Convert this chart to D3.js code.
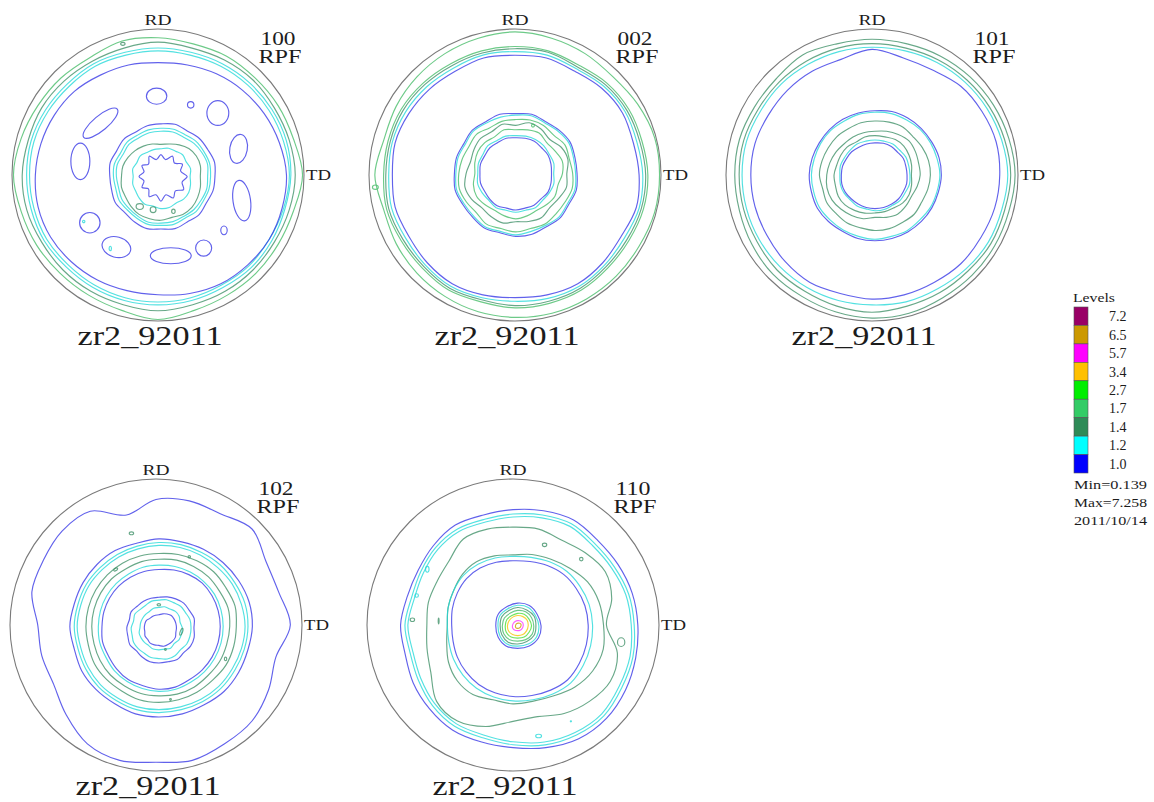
<!DOCTYPE html>
<html><head><meta charset="utf-8">
<script src="https://cdn.jsdelivr.net/npm/d3@7"></script>
<style>
body{margin:0;background:#fff;}
text{font-family:"Liberation Serif","Times New Roman",serif;fill:#1c1c1c;}
</style>
</head><body>
<svg id="chart" width="1154" height="802"></svg>
<script>
// ---------- DATA ----------
const figureNames = ["100","002","101","102","110"];
const sampleName = "zr2_92011";
const legendLevels = [7.2,6.5,5.7,3.4,2.7,1.7,1.4,1.2,1.0];
const legendLabels = ["7.2","6.5","5.7","3.4","2.7","1.7","1.4","1.2","1.0"];
const legendSwatch = ["#990066","#cc9900","#ff00ff","#ffc000","#00ee00","#33cc66","#2e8b57","#00ffff","#0000ff"];
const lineColors   = ["#99005a","#cc9900","#ff33ff","#f5c400","#44dd33","#44bb66","#3d8f66","#22d8d8","#3535e6"];
const statLines = ["Min=0.139","Max=7.258","2011/10/14"];

// contour rings: level, centre offset (fraction of radius), radii sampled clockwise from RD
const rings100 = [
 {lv:1.7,c:[0,0],r:[0.94,0.93,0.94,0.94,0.95,0.96,0.99,0.96,0.95,0.95,0.95,0.96,0.99,0.96,0.95,0.95,0.96,0.97,0.99,0.97,0.95,0.94,0.93,0.95]},
 {lv:1.4,c:[0,0],r:[0.91,0.9,0.91,0.92,0.92,0.93,0.94,0.93,0.92,0.92,0.92,0.92,0.93,0.92,0.92,0.92,0.92,0.93,0.93,0.92,0.92,0.91,0.9,0.9]},
 {lv:1.2,c:[0,0],r:[0.87,0.87,0.88,0.89,0.9,0.91,0.91,0.9,0.9,0.9,0.89,0.89,0.89,0.89,0.89,0.89,0.9,0.9,0.9,0.9,0.89,0.88,0.88,0.87]},
 {lv:1.2,c:[0,0],r:[0.85,0.85,0.86,0.87,0.88,0.89,0.9,0.89,0.88,0.88,0.87,0.87,0.87,0.87,0.87,0.87,0.88,0.88,0.88,0.88,0.87,0.86,0.86,0.85]},
 {lv:1.0,c:[0,0],r:[0.77,0.78,0.8,0.82,0.84,0.86,0.88,0.88,0.88,0.87,0.86,0.84,0.82,0.82,0.83,0.84,0.85,0.85,0.84,0.83,0.82,0.81,0.79,0.78]},
 {lv:1.0,c:[0.02,0.01],r:[0.36,0.37,0.36,0.37,0.37,0.38,0.37,0.37,0.36,0.37,0.36,0.37,0.36,0.37,0.36,0.35,0.36,0.35,0.35,0.36,0.35,0.36,0.35,0.36]},
 {lv:1.2,c:[0.02,0.01],r:[0.33,0.335,0.33,0.34,0.34,0.345,0.34,0.34,0.335,0.34,0.33,0.34,0.335,0.34,0.33,0.325,0.33,0.32,0.325,0.33,0.32,0.33,0.325,0.33]},
 {lv:1.2,c:[0.02,0.01],r:[0.31,0.315,0.31,0.32,0.325,0.33,0.32,0.325,0.32,0.32,0.315,0.32,0.32,0.325,0.315,0.31,0.31,0.3,0.305,0.31,0.3,0.31,0.305,0.31]},
 {lv:1.4,c:[0.02,0.01],r:[0.22,0.23,0.25,0.27,0.28,0.28,0.27,0.28,0.29,0.3,0.3,0.29,0.3,0.3,0.3,0.29,0.28,0.28,0.27,0.27,0.26,0.25,0.24,0.23]},
 {lv:1.2,c:[0.02,0.01],r:[0.19,0.2,0.2,0.21,0.2,0.21,0.2,0.21,0.22,0.22,0.21,0.22,0.22,0.21,0.22,0.21,0.2,0.2,0.19,0.2,0.19,0.2,0.19,0.19]},
 {lv:1.0,c:[0.02,0.01],r:[0.15,0.12,0.16,0.13,0.17,0.14,0.18,0.15,0.18,0.14,0.17,0.13,0.17,0.13,0.16,0.12,0.15,0.12,0.15,0.12,0.15,0.12,0.16,0.12]}
];
const rings002 = [
 {lv:1.7,c:[0,0],r:[0.98,0.97,0.96,0.95,0.97,0.99,0.99,0.99,0.98,0.98,0.98,0.98,0.975,0.97,0.96,0.95,0.94,0.93,0.96,0.93,0.94,0.95,0.96,0.97]},
 {lv:1.7,c:[0,0],r:[0.88,0.88,0.87,0.89,0.9,0.9,0.91,0.91,0.9,0.9,0.91,0.91,0.91,0.9,0.91,0.9,0.9,0.91,0.9,0.9,0.9,0.89,0.88,0.88]},
 {lv:1.4,c:[0,0],r:[0.865,0.87,0.855,0.875,0.885,0.885,0.895,0.895,0.885,0.885,0.895,0.895,0.895,0.885,0.895,0.885,0.885,0.895,0.885,0.885,0.885,0.875,0.865,0.865]},
 {lv:1.2,c:[0,0],r:[0.845,0.85,0.84,0.86,0.87,0.865,0.875,0.88,0.865,0.87,0.88,0.875,0.865,0.87,0.88,0.87,0.865,0.875,0.865,0.87,0.865,0.855,0.845,0.85]},
 {lv:1.0,c:[0,0],r:[0.82,0.83,0.82,0.84,0.85,0.84,0.85,0.86,0.84,0.85,0.86,0.85,0.84,0.85,0.86,0.85,0.84,0.85,0.84,0.85,0.84,0.83,0.82,0.83]},
 {lv:1.0,c:[0.005,-0.01],r:[0.41,0.42,0.41,0.42,0.43,0.42,0.42,0.43,0.42,0.43,0.42,0.43,0.43,0.42,0.43,0.42,0.42,0.43,0.42,0.42,0.41,0.42,0.41,0.42]},
 {lv:1.2,c:[0.005,-0.01],r:[0.4,0.41,0.4,0.41,0.42,0.41,0.41,0.42,0.41,0.42,0.41,0.41,0.42,0.41,0.42,0.41,0.41,0.42,0.41,0.41,0.4,0.41,0.4,0.4]},
 {lv:1.7,c:[0.005,-0.01],r:[0.37,0.38,0.38,0.37,0.39,0.38,0.39,0.4,0.39,0.39,0.4,0.39,0.4,0.39,0.4,0.38,0.39,0.4,0.39,0.38,0.37,0.38,0.36,0.37]},
 {lv:1.4,c:[0.005,-0.01],r:[0.33,0.36,0.35,0.33,0.36,0.37,0.35,0.36,0.34,0.33,0.35,0.34,0.33,0.35,0.34,0.33,0.35,0.36,0.34,0.32,0.33,0.34,0.33,0.35]},
 {lv:1.7,c:[0.005,-0.01],r:[0.3,0.31,0.32,0.3,0.31,0.33,0.32,0.3,0.31,0.3,0.29,0.3,0.31,0.3,0.29,0.3,0.31,0.3,0.28,0.29,0.3,0.3,0.29,0.31]},
 {lv:1.2,c:[0.005,-0.01],r:[0.26,0.265,0.27,0.27,0.265,0.27,0.26,0.27,0.265,0.26,0.27,0.26,0.265,0.26,0.27,0.26,0.265,0.27,0.26,0.265,0.26,0.27,0.26,0.265]},
 {lv:1.0,c:[0.005,-0.01],r:[0.245,0.25,0.255,0.25,0.255,0.25,0.245,0.25,0.255,0.245,0.25,0.245,0.25,0.245,0.255,0.25,0.245,0.25,0.245,0.25,0.245,0.25,0.245,0.25]}
];
const rings101 = [
 {lv:1.4,c:[0,0],r:[0.93,0.93,0.94,0.95,0.96,0.97,0.98,0.97,0.97,0.97,0.97,0.98,0.98,0.97,0.96,0.96,0.95,0.94,0.94,0.94,0.93,0.93,0.95,0.93]},
 {lv:1.4,c:[0,0],r:[0.9,0.9,0.91,0.92,0.93,0.94,0.95,0.94,0.94,0.93,0.93,0.93,0.94,0.93,0.92,0.92,0.91,0.91,0.91,0.91,0.9,0.9,0.9,0.9]},
 {lv:1.2,c:[0,0],r:[0.875,0.88,0.89,0.9,0.91,0.92,0.93,0.92,0.92,0.91,0.9,0.9,0.89,0.89,0.89,0.89,0.89,0.89,0.89,0.89,0.88,0.88,0.875,0.875]},
 {lv:1.0,c:[0,0],r:[0.86,0.83,0.83,0.86,0.87,0.88,0.875,0.87,0.86,0.86,0.85,0.85,0.85,0.84,0.85,0.84,0.83,0.83,0.83,0.83,0.82,0.82,0.82,0.82]},
 {lv:1.0,c:[0.02,0],r:[0.44,0.45,0.45,0.45,0.45,0.455,0.455,0.45,0.45,0.45,0.45,0.45,0.45,0.45,0.445,0.45,0.455,0.45,0.45,0.445,0.44,0.44,0.44,0.44]},
 {lv:1.2,c:[0.02,0],r:[0.43,0.435,0.435,0.44,0.44,0.44,0.445,0.44,0.44,0.435,0.44,0.435,0.44,0.435,0.435,0.435,0.44,0.435,0.435,0.43,0.43,0.43,0.425,0.43]},
 {lv:1.4,c:[0.02,0],r:[0.37,0.375,0.38,0.37,0.375,0.38,0.38,0.375,0.37,0.38,0.375,0.38,0.38,0.375,0.38,0.375,0.38,0.37,0.38,0.375,0.37,0.37,0.365,0.37]},
 {lv:1.4,c:[0.02,0],r:[0.3,0.31,0.32,0.33,0.32,0.31,0.31,0.3,0.29,0.3,0.31,0.3,0.29,0.31,0.32,0.33,0.34,0.34,0.33,0.32,0.31,0.3,0.3,0.3]},
 {lv:1.4,c:[0.02,0],r:[0.27,0.27,0.28,0.28,0.27,0.26,0.25,0.26,0.27,0.27,0.26,0.26,0.26,0.27,0.28,0.29,0.29,0.28,0.28,0.27,0.27,0.27,0.26,0.27]},
 {lv:1.2,c:[0.02,0],r:[0.24,0.24,0.245,0.24,0.245,0.24,0.24,0.245,0.24,0.245,0.24,0.245,0.245,0.24,0.245,0.24,0.245,0.245,0.24,0.245,0.24,0.24,0.245,0.24]},
 {lv:1.0,c:[0.02,0],r:[0.22,0.225,0.225,0.22,0.225,0.22,0.22,0.225,0.225,0.23,0.23,0.23,0.23,0.23,0.23,0.23,0.235,0.235,0.23,0.23,0.225,0.225,0.22,0.22]}
];
const rings102 = [
 {lv:1.0,c:[0,0],r:[0.86,0.88,0.88,0.93,0.87,0.87,0.92,0.85,0.89,0.93,0.94,0.96,0.94,0.96,0.94,0.87,0.81,0.81,0.81,0.88,0.89,0.91,0.9,0.78]},
 {lv:1.0,c:[0.02,0.01],r:[0.6,0.6,0.61,0.62,0.63,0.64,0.64,0.63,0.63,0.63,0.62,0.62,0.62,0.62,0.61,0.61,0.61,0.6,0.61,0.6,0.6,0.6,0.6,0.59]},
 {lv:1.2,c:[0.02,0.01],r:[0.575,0.58,0.585,0.595,0.6,0.61,0.61,0.605,0.6,0.6,0.595,0.59,0.59,0.59,0.585,0.585,0.58,0.575,0.58,0.575,0.575,0.57,0.57,0.57]},
 {lv:1.2,c:[0.02,0.01],r:[0.555,0.56,0.565,0.57,0.58,0.585,0.59,0.585,0.58,0.58,0.575,0.57,0.57,0.57,0.565,0.565,0.56,0.555,0.56,0.555,0.555,0.55,0.55,0.55]},
 {lv:1.4,c:[0.02,0.01],r:[0.5,0.51,0.52,0.53,0.53,0.54,0.53,0.53,0.53,0.52,0.52,0.52,0.52,0.52,0.51,0.51,0.51,0.5,0.5,0.5,0.5,0.5,0.5,0.5]},
 {lv:1.4,c:[0.02,0.01],r:[0.46,0.47,0.475,0.48,0.48,0.49,0.485,0.48,0.48,0.475,0.48,0.48,0.475,0.475,0.47,0.47,0.465,0.46,0.46,0.46,0.46,0.46,0.455,0.46]},
 {lv:1.2,c:[0.02,0.01],r:[0.42,0.425,0.43,0.435,0.44,0.44,0.44,0.44,0.44,0.44,0.44,0.445,0.445,0.44,0.435,0.43,0.42,0.42,0.415,0.415,0.415,0.415,0.415,0.42]},
 {lv:1.0,c:[0.02,0.01],r:[0.39,0.4,0.41,0.42,0.42,0.42,0.42,0.42,0.42,0.42,0.42,0.43,0.43,0.42,0.42,0.41,0.4,0.4,0.39,0.39,0.39,0.39,0.39,0.39]},
 {lv:1.0,c:[0.02,0.02],r:[0.21,0.22,0.23,0.24,0.24,0.25,0.24,0.25,0.25,0.24,0.25,0.24,0.24,0.24,0.23,0.22,0.23,0.22,0.22,0.21,0.22,0.21,0.21,0.21]},
 {lv:1.2,c:[0.02,0.02],r:[0.19,0.2,0.2,0.21,0.21,0.22,0.22,0.22,0.22,0.21,0.22,0.22,0.21,0.21,0.2,0.2,0.2,0.19,0.19,0.18,0.19,0.18,0.18,0.19]},
 {lv:1.2,c:[0.02,0.02],r:[0.14,0.15,0.15,0.16,0.16,0.15,0.16,0.16,0.16,0.15,0.16,0.15,0.15,0.15,0.14,0.14,0.14,0.14,0.13,0.13,0.13,0.13,0.13,0.14]},
 {lv:1.0,c:[0.02,0.02],r:[0.09,0.1,0.11,0.12,0.12,0.12,0.12,0.12,0.13,0.13,0.13,0.13,0.12,0.12,0.12,0.11,0.11,0.1,0.1,0.1,0.1,0.09,0.09,0.09]}
];
const rings110 = [
 {lv:1.0,c:[0,0],r:[0.79,0.81,0.83,0.82,0.83,0.845,0.855,0.87,0.89,0.905,0.9,0.87,0.84,0.83,0.83,0.81,0.79,0.765,0.77,0.75,0.75,0.77,0.79,0.78]},
 {lv:1.2,c:[0,0],r:[0.76,0.78,0.8,0.79,0.8,0.82,0.83,0.85,0.86,0.88,0.87,0.85,0.82,0.8,0.8,0.78,0.75,0.73,0.74,0.72,0.73,0.75,0.76,0.75]},
 {lv:1.2,c:[0,0],r:[0.74,0.76,0.78,0.77,0.78,0.8,0.81,0.83,0.84,0.86,0.85,0.83,0.8,0.78,0.78,0.76,0.73,0.71,0.72,0.7,0.71,0.73,0.74,0.73]},
 {lv:1.4,c:[0,0],r:[0.67,0.68,0.67,0.7,0.73,0.7,0.64,0.74,0.77,0.74,0.7,0.65,0.66,0.72,0.76,0.74,0.65,0.61,0.59,0.6,0.6,0.62,0.68,0.68]},
 {lv:1.4,c:[0,0],r:[0.48,0.5,0.52,0.55,0.59,0.61,0.62,0.64,0.63,0.6,0.56,0.54,0.54,0.53,0.55,0.54,0.51,0.47,0.45,0.46,0.47,0.49,0.5,0.49]},
 {lv:1.2,c:[0,0],r:[0.47,0.48,0.5,0.52,0.53,0.54,0.545,0.55,0.555,0.56,0.545,0.53,0.52,0.51,0.5,0.485,0.47,0.455,0.45,0.46,0.47,0.48,0.48,0.475]},
 {lv:1.0,c:[0,0],r:[0.44,0.45,0.47,0.49,0.5,0.51,0.515,0.52,0.525,0.53,0.515,0.5,0.49,0.48,0.47,0.455,0.44,0.425,0.42,0.43,0.44,0.45,0.45,0.445]},
 {lv:1.0,c:[0.032,0.005],r:[0.155,0.16,0.155,0.16,0.165,0.16,0.155,0.16,0.155,0.15,0.155,0.15]},
 {lv:1.2,c:[0.032,0.005],r:[0.14,0.145,0.14,0.145,0.15,0.145,0.14,0.145,0.14,0.135,0.14,0.135]},
 {lv:1.4,c:[0.032,0.005],r:[0.125,0.125,0.13,0.125,0.13,0.125,0.125,0.13,0.125,0.12,0.125,0.12]},
 {lv:1.7,c:[0.032,0.005],r:[0.105,0.11,0.11,0.11,0.115,0.11,0.105,0.11,0.11,0.105,0.105,0.1]},
 {lv:2.7,c:[0.032,0.005],r:[0.085,0.09,0.09,0.095,0.09,0.09,0.085,0.09,0.09,0.085,0.085,0.08]},
 {lv:3.4,c:[0.032,0.005],r:[0.07,0.072,0.075,0.072,0.07,0.07,0.068,0.07,0.072,0.07,0.068,0.068]},
 {lv:5.7,c:[0.032,0.005],r:[0.035,0.038,0.04,0.038,0.036,0.035,0.034,0.036,0.038,0.036,0.034,0.034]},
 {lv:6.5,c:[0.035,0.005],r:[0.018,0.02,0.022,0.02,0.018,0.017,0.018,0.02,0.02,0.018,0.017,0.017]}
];
// isolated islands: level, angle (deg from RD, clockwise), distance, rx, ry, tilt
const blobs100 = [
 [1.0,-1,0.54,0.07,0.055,0],[1.0,25,0.53,0.022,0.022,0],[1.0,44,0.59,0.075,0.085,0],
 [1.0,72,0.58,0.06,0.1,10],[1.0,107,0.6,0.06,0.14,-8],[1.0,130,0.59,0.022,0.03,0],
 [1.0,148,0.59,0.055,0.055,0],[1.0,171,0.56,0.14,0.055,0],[1.0,210,0.57,0.1,0.07,15],
 [1.0,235,0.57,0.07,0.07,0],[1.0,280,0.54,0.065,0.125,0],[1.0,312,0.53,0.15,0.05,-40],
 [1.2,213,0.6,0.008,0.015,0],[1.2,238,0.6,0.008,0.008,0],[1.4,345,0.93,0.015,0.01,0],
 [1.4,210,0.25,0.025,0.02,0],[1.4,188,0.24,0.02,0.02,0],[1.4,157,0.27,0.012,0.015,0]
];
const blobs002 = [[1.7,265,0.96,0.02,0.015,0],[1.7,20,0.36,0.01,0.01,0]];
const blobs101 = [];
const blobs102 = [
 [1.4,345,0.65,0.015,0.01,0],[1.4,26,0.52,0.008,0.008,0],[1.4,324,0.47,0.015,0.008,-30],
 [1.4,8,0.14,0.012,0.008,0],[1.4,105,0.18,0.008,0.025,20],[1.4,159,0.18,0.006,0.006,0],
 [1.4,116,0.53,0.008,0.012,0],[1.4,169,0.52,0.006,0.006,0]
];
const blobs110 = [
 [1.4,21.5,0.59,0.015,0.012,0],[1.4,46,0.65,0.012,0.012,0],[1.2,303,0.7,0.012,0.02,0],
 [1.2,287,0.69,0.012,0.012,0],[1.4,273,0.69,0.015,0.012,0],[1.4,273,0.51,0.003,0.02,0],
 [1.4,99,0.75,0.025,0.03,0],[1.2,167,0.78,0.02,0.012,0],[1.2,149,0.77,0.004,0.004,0]
];
const ringSets = [rings100, rings002, rings101, rings102, rings110];
const blobSets = [blobs100, blobs002, blobs101, blobs102, blobs110];

// ---------- DRAW ----------
const svg = d3.select("#chart");
const R = 146;
const colX = d3.scalePoint().domain([0,1,2]).range([158,872]);
const rowY = d3.scalePoint().domain([0,1]).range([175,625]);
const rScale = d3.scaleLinear().domain([0,1]).range([0,R]);
const color = d3.scaleOrdinal().domain(legendLevels).range(lineColors);
const swatch = d3.scaleOrdinal().domain(legendLevels).range(legendSwatch);

const radial = d3.lineRadial()
  .angle((d,i,arr) => i * 2 * Math.PI / arr.length)
  .radius(d => rScale(d))
  .curve(d3.curveCatmullRomClosed.alpha(0.5));

figureNames.forEach((name, k) => {
  const cx = colX(k % 3) - (k >= 3 ? 2 : 0), cy = rowY(k < 3 ? 0 : 1);
  const g = svg.append("g").attr("transform", `translate(${cx},${cy})`);
  g.append("circle").attr("r", R).attr("fill", "none").attr("stroke", "#7a7a7a").attr("stroke-width", 1.1);

  g.selectAll("path.ring").data(ringSets[k]).join("path")
    .attr("class", "ring")
    .attr("transform", d => `translate(${rScale(d.c[0])},${rScale(d.c[1])})`)
    .attr("d", d => radial(d.r))
    .attr("fill", "none")
    .attr("stroke", d => color(d.lv))
    .attr("stroke-opacity", 0.78)
    .attr("stroke-width", 1.15);

  g.selectAll("ellipse.blob").data(blobSets[k]).join("ellipse")
    .attr("class", "blob")
    .attr("transform", d => {
      const a = d[1] * Math.PI / 180;
      return `translate(${rScale(d[2]) * Math.sin(a)},${-rScale(d[2]) * Math.cos(a)}) rotate(${d[5]})`;
    })
    .attr("rx", d => rScale(d[3])).attr("ry", d => rScale(d[4]))
    .attr("fill", "none")
    .attr("stroke", d => color(d[0]))
    .attr("stroke-opacity", 0.78)
    .attr("stroke-width", 1.15);

  g.append("text").attr("x", 0).attr("y", -R - 4).attr("text-anchor", "middle")
    .attr("font-size", 15).attr("textLength", 27).attr("lengthAdjust", "spacingAndGlyphs").text("RD");
  g.append("text").attr("x", R + 2).attr("y", 5)
    .attr("font-size", 15).attr("textLength", 25).attr("lengthAdjust", "spacingAndGlyphs").text("TD");
  g.append("text").attr("x", 120).attr("y", -R + 16).attr("text-anchor", "middle")
    .attr("font-size", 18).attr("textLength", 35).attr("lengthAdjust", "spacingAndGlyphs").text(name);
  g.append("text").attr("x", 122).attr("y", -R + 34).attr("text-anchor", "middle")
    .attr("font-size", 18).attr("textLength", 43).attr("lengthAdjust", "spacingAndGlyphs").text("RPF");
  g.append("text").attr("x", -8).attr("y", R + 24).attr("text-anchor", "middle")
    .attr("font-size", 27).attr("textLength", 145).attr("lengthAdjust", "spacingAndGlyphs").text(sampleName);
});

// ---------- LEGEND ----------
const lg = svg.append("g");
const ly = d3.scaleBand().domain(legendLevels).range([307, 473]).padding(0);
lg.append("text").attr("x", 1073).attr("y", 302).attr("font-size", 13)
  .attr("textLength", 42).attr("lengthAdjust", "spacingAndGlyphs").text("Levels");
lg.selectAll("rect").data(legendLevels).join("rect")
  .attr("x", 1074).attr("y", d => ly(d)).attr("width", 14).attr("height", ly.bandwidth())
  .attr("fill", d => swatch(d)).attr("stroke", "#555").attr("stroke-width", 0.6);
lg.selectAll("text.lv").data(legendLevels).join("text").attr("class", "lv")
  .attr("x", 1109).attr("y", d => ly(d) + ly.bandwidth() / 2 + 5)
  .attr("font-size", 14).attr("fill", "#444")
  .text((d, i) => legendLabels[i]);
lg.selectAll("text.st").data(statLines).join("text").attr("class", "st")
  .attr("x", 1074).attr("y", (d, i) => 489 + i * 18)
  .attr("font-size", 13).attr("fill", "#444")
  .attr("textLength", 73).attr("lengthAdjust", "spacingAndGlyphs")
  .text(d => d);
</script>
</body></html>
